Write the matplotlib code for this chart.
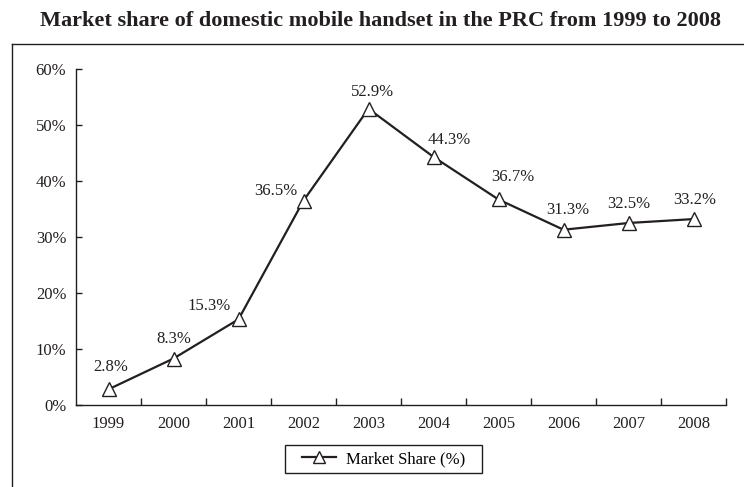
import matplotlib
matplotlib.use("Agg")
import matplotlib.pyplot as plt
from matplotlib.lines import Line2D
from matplotlib.patches import Rectangle

years = ["1999", "2000", "2001", "2002", "2003", "2004", "2005", "2006", "2007", "2008"]
share = [2.8, 8.3, 15.3, 36.5, 52.9, 44.3, 36.7, 31.3, 32.5, 33.2]
yticks = [0, 10, 20, 30, 40, 50, 60]
title = "Market share of domestic mobile handset in the PRC from 1999 to 2008"
series_name = "Market Share (%)"

# label offsets (pixels) relative to each point
label_offsets = [(2, 22), (0, 20), (-29, 13), (-28, 10), (4, 17),
                 (16, 17), (14, 22), (4, 20), (0, 19), (1, 19)]

plt.rcParams['font.family'] = ['Liberation Serif', 'DejaVu Serif']
W, H = 744, 487
fig = plt.figure(figsize=(W / 100, H / 100), dpi=100)
ax = fig.add_axes([76 / W, (H - 405) / H, (726 - 76) / W, (405 - 69) / H])

ink = "#231f20"
x = list(range(len(years)))
ax.plot(x, share, color=ink, lw=1.6, marker="^", markersize=10,
        markerfacecolor="white", markeredgecolor=ink, markeredgewidth=1.0,
        label=series_name, zorder=3)

for xi, v, (dx, dy) in zip(x, share, label_offsets):
    ax.annotate(f"{v:.1f}%", (xi, v), xytext=(dx, dy), textcoords="offset pixels",
                ha="center", va="center", fontsize=12, color=ink)

ax.set_xlim(-0.5, len(years) - 0.5)
ax.set_ylim(0, 60)
ax.set_yticks(yticks)
ax.set_yticklabels([f"{t}%" for t in yticks])
ax.set_xticks([i + 0.5 for i in range(len(years))])
ax.set_xticklabels([])
ax.set_xticks(x, minor=True)
ax.set_xticklabels(years, minor=True)
ax.tick_params(axis="x", which="major", direction="in", length=5, width=1, color=ink)
ax.tick_params(axis="x", which="minor", length=0, pad=8, labelsize=12, labelcolor=ink)
ax.tick_params(axis="y", direction="in", length=4.5, width=1, color=ink, pad=7,
               labelsize=12, labelcolor=ink)
for s in ["top", "right"]:
    ax.spines[s].set_visible(False)
for s in ["left", "bottom"]:
    ax.spines[s].set_color(ink)
    ax.spines[s].set_linewidth(1.0)

leg = ax.legend(loc="center", bbox_to_anchor=(383.5 / W, (H - 459) / H),
                bbox_transform=fig.transFigure, frameon=False,
                fontsize=12, handlelength=2.0, borderpad=0.4, handletextpad=0.6,
                borderaxespad=0)
for h in leg.legend_handles:
    h.set_markersize(9)
fig.add_artist(Rectangle((285 / W, (H - 473) / H), (482 - 285) / W, 28 / H,
                         transform=fig.transFigure, fill=False, edgecolor=ink, lw=1.0))

fig.text(381 / W, (H - 21) / H, title, ha="center", va="center",
         fontsize=16, fontweight="bold", color=ink)

fig.add_artist(Line2D([12 / W, 1], [(H - 44) / H, (H - 44) / H],
                      transform=fig.transFigure, color=ink, lw=1.0))
fig.add_artist(Line2D([12 / W, 12 / W], [0, (H - 44) / H],
                      transform=fig.transFigure, color=ink, lw=1.0))

fig.savefig("out.png", dpi=100)
